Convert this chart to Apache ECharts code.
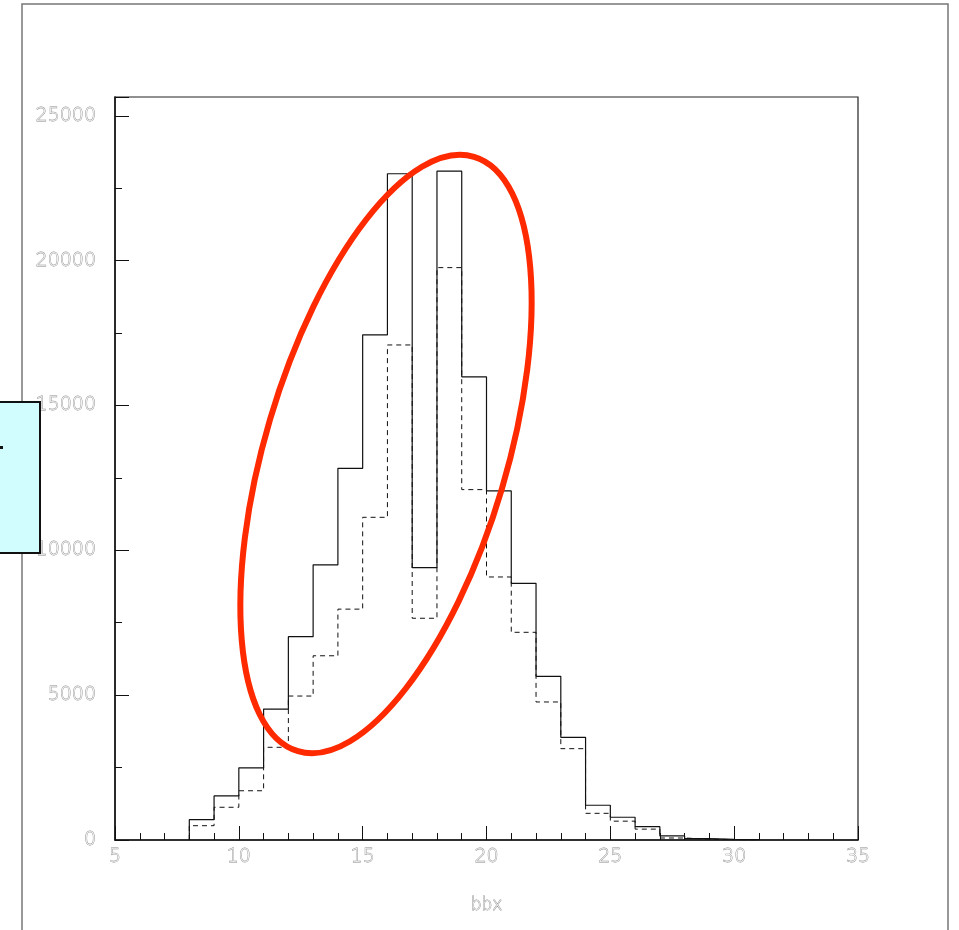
<!DOCTYPE html>
<html lang="en">

<head>
  <meta charset="UTF-8">
  <title>bbx</title>
  <style>
    html, body { margin: 0; padding: 0; background: #fff; }
  </style>
</head>

<body>
  <div id="main" style="width: 959px;height:930px;"></div>
  <script src="https://cdn.jsdelivr.net/npm/echarts@6/dist/echarts.min.js"></script>
  <script>
    // bin lower edges (bin width 1)
    const binStart = [8, 9, 10, 11, 12, 13, 14, 15, 16, 17, 18, 19, 20, 21, 22, 23, 24, 25, 26, 27, 28, 29, 30];
    const solidCounts = [700, 1520, 2490, 4520, 7020, 9500, 12830, 17440, 23000, 9400, 23090, 15990,
      12050, 8860, 5650, 3545, 1200, 785, 460, 140, 46, 25, 15];
    const dashedCounts = [494, 1130, 1700, 3200, 4970, 6360, 7970, 11140, 17090, 7655, 19760, 12096,
      9080, 7170, 4765, 3153, 921, 650, 375, 69, 30, 15, 8];

    // step outline: start at 0, one point per bin edge, drop to 0 at the end
    function steps(counts) {
      const pts = [[binStart[0], 0]];
      binStart.forEach((x, i) => pts.push([x, counts[i]]));
      pts.push([binStart[binStart.length - 1] + 1, 0]);
      return pts;
    }

    const labelFont = {
      color: '#f4f4f4',
      textBorderColor: '#8a8a8a',
      textBorderWidth: 0.8,
      fontFamily: 'DejaVu Sans',
      fontWeight: 'lighter',
      fontSize: 19
    };

    const myChart = echarts.init(document.getElementById('main'));

    const option = {
      animation: false,
      backgroundColor: '#fff',
      grid: {
        left: 115,
        right: 101,
        top: 97,
        bottom: 90,
        show: true,
        borderColor: '#222',
        borderWidth: 1.2
      },
      xAxis: {
        type: 'value',
        min: 5,
        max: 35,
        interval: 5,
        name: 'bbx',
        nameLocation: 'middle',
        nameGap: 57,
        nameTextStyle: Object.assign({}, labelFont, { fontSize: 17 }),
        axisLine: { onZero: false, lineStyle: { color: '#111', width: 1.5 } },
        axisTick: { inside: true, length: 14, lineStyle: { color: '#111' } },
        minorTick: { show: true, splitNumber: 5, length: 7, lineStyle: { color: '#111' } },
        axisLabel: Object.assign({ margin: 8, formatter: (v) => String(v) }, labelFont),
        splitLine: { show: false }
      },
      yAxis: {
        type: 'value',
        min: 0,
        max: 25650,
        interval: 5000,
        axisLine: { show: true, lineStyle: { color: '#111', width: 1.5 } },
        axisTick: { show: true, inside: true, length: 14, lineStyle: { color: '#111' } },
        minorTick: { show: true, splitNumber: 2, length: 7, lineStyle: { color: '#111' } },
        axisLabel: Object.assign({ margin: 19, showMaxLabel: false, formatter: (v) => String(v) }, labelFont),
        splitLine: { show: false }
      },
      series: [{
        name: 'dashed',
        type: 'line',
        step: 'end',
        symbol: 'none',
        data: steps(dashedCounts),
        lineStyle: { color: '#111', width: 1, type: [5, 4] },
        z: 2
      }, {
        name: 'solid',
        type: 'line',
        step: 'end',
        symbol: 'none',
        data: steps(solidCounts),
        lineStyle: { color: '#111', width: 1.2 },
        z: 3
      }],
      graphic: [{
        // outer canvas frame
        type: 'rect',
        z: -10,
        shape: { x: 22, y: 4, width: 926, height: 940 },
        style: { fill: 'none', stroke: '#777', lineWidth: 1.5 }
      }, {
        // partly hidden box on the left
        type: 'rect',
        z: 50,
        shape: { x: -2, y: 402, width: 42, height: 151 },
        style: { fill: '#d2fdff', stroke: '#111', lineWidth: 2 }
      }, {
        type: 'rect',
        z: 51,
        shape: { x: 0, y: 446, width: 3, height: 3 },
        style: { fill: '#111' }
      }, {
        // hand drawn red ellipse
        type: 'ellipse',
        z: 100,
        x: 386,
        y: 454,
        rotation: 73.5 * Math.PI / 180,
        shape: { cx: 0, cy: 0, rx: 310, ry: 121 },
        style: { fill: 'none', stroke: '#ff2a00', lineWidth: 6 }
      }]
    };

    myChart.setOption(option);
  </script>
</body>

</html>
